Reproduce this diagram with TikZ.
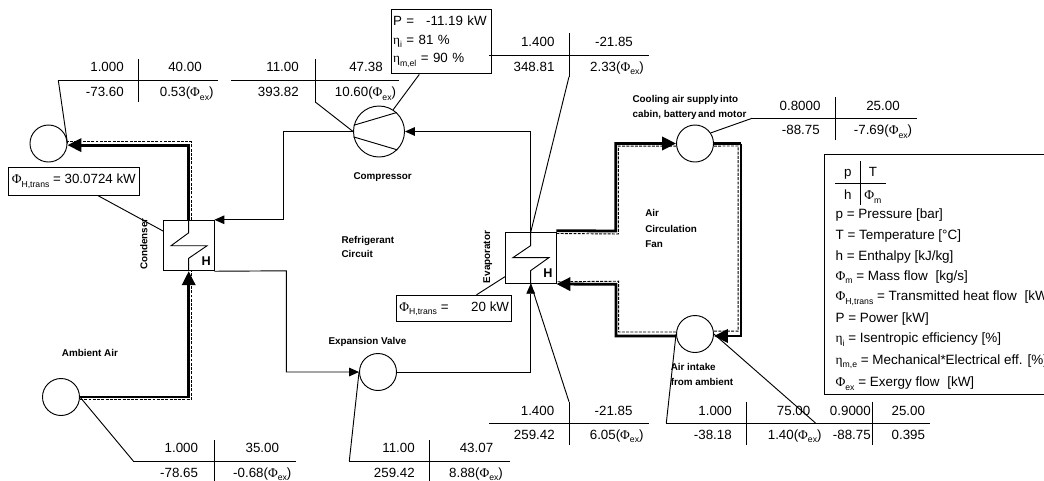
\documentclass[tikz,border=0pt]{standalone}
\usepackage{fontspec}
\setmainfont{Liberation Sans}
\newfontfamily\grkfont{Liberation Serif}
\usetikzlibrary{positioning,shapes,arrows.meta}
\newcommand{\Phisub}[1]{{\grkfont Φ}\raisebox{-0.5ex}{\fontsize{6.5}{7}\selectfont #1}}
\newcommand{\Etasub}[1]{{\grkfont η}\raisebox{-0.5ex}{\fontsize{6.5}{7}\selectfont #1}}
\tikzstyle{unit} = [circle, draw=black, line width=0.7pt, minimum size=27.75pt, inner sep=0pt]
\tikzstyle{bigunit} = [circle, draw=black, line width=0.7pt, minimum size=38.25pt, inner sep=0pt]
\tikzstyle{exchanger} = [rectangle, draw=black, line width=0.7pt, minimum size=37.9pt, inner sep=0pt]
\tikzstyle{databox} = [rectangle, draw=black, line width=0.7pt, inner sep=0pt, font=\fontsize{10}{14}\selectfont]
\tikzstyle{refline} = [line width=0.7pt, -{Triangle[length=7.5pt,width=6.5pt]}]
\tikzstyle{airline} = [line width=2.1pt, -{Triangle[length=10.5pt,width=10pt]}]
\tikzstyle{airplain} = [line width=2.1pt]
\tikzstyle{airdash} = [line width=0.7pt, dash pattern=on 2.2pt off 1pt]
\tikzstyle{leader} = [line width=0.7pt]
\tikzstyle{rule} = [line width=0.7pt]
\tikzstyle{numr} = [anchor=base east, inner sep=0pt, font=\fontsize{10}{12}\selectfont]
\tikzstyle{numc} = [anchor=base, inner sep=0pt, font=\fontsize{10}{12}\selectfont]
\tikzstyle{keytext} = [anchor=base west, inner sep=0pt, font=\fontsize{10.1}{12}\selectfont]
\tikzstyle{lbl} = [anchor=base west, inner sep=0pt, font=\fontsize{7.4}{9}\selectfont\bfseries]
\tikzstyle{hletter} = [anchor=base, inner sep=0pt, font=\fontsize{9.5}{12}\selectfont\bfseries]
\begin{document}
\begin{tikzpicture}[x=0.75pt,y=-0.75pt]
			\useasboundingbox (0,0) rectangle (1044,480);

			\node (outc) [unit] at (48.5,143.5) {};
			\node (amb) [unit] at (61,397) {};
			\node (comp) [bigunit] at (379,131.5) {};
			\node (exp) [unit] at (378,372) {};
			\node (sup) [unit] at (695,143.5) {};
			\node (int) [unit] at (695,334) {};
			\node (cond) [exchanger] at (188.7,245.5) {};
			\node (evap) [exchanger] at (530.7,258) {};
			\node (condH) [hletter] at (206.3,265) {H};
			\node (evapH) [hletter] at (548,277.7) {H};

			\coordinate (refA) at (283.5,131.5);
			\coordinate (refB) at (286.3,270.8);
			\coordinate (fanA) at (615.7,231);
			\coordinate (fanB) at (741,143.5);
			\coordinate (fanC) at (616,284.3);
			\coordinate (dashA) at (618.3,234);
			\coordinate (dashB) at (738.2,146);
			\coordinate (dashC) at (618.6,281.2);

			% zigzag coils
			\draw [leader] (cond.north) -- ++(0,13) -- ++(-17.7,13) -- ++(36,0) -- ++(-18.3,12.5) -- (cond.south);
			\draw [leader] (evap.north) -- ++(0,13.3) -- ++(-17.7,12) -- ++(36,0) -- ++(-18.3,13) -- (evap.south);

			% compressor blades
			\draw [leader] (comp.166) -- (comp.47);
			\draw [leader] (comp.192) -- (comp.-45);

			% refrigerant circuit
			\draw [refline] (comp.west) -- (refA) |- (cond.north east);
			\draw [refline] (cond.south east) -- (refB) |- (exp.west);
			\draw [refline] (exp.east) -| (evap.south);
			\draw [refline] (evap.north) |- (comp.east);

			% air streams
			\draw [airdash] ([yshift=-1.9pt]amb.east) -| ([xshift=1.9pt]cond.south);
			\draw [airdash] ([xshift=1.9pt]cond.north) |- ([yshift=1.2pt]outc.east);
			\draw [airdash] ([yshift=-0.9pt]evap.north east) -- (dashA) |- ([yshift=-1.9pt]sup.west);
			\draw [airdash] ([yshift=-1.9pt]sup.east) -- (dashB) |- ([yshift=2.2pt]int.east);
			\draw [airdash] ([yshift=1.5pt]int.west) -| (dashC) -- ([yshift=1.5pt]evap.south east);
			\draw [airline] (amb.east) -| (cond.south);
			\draw [airline] (cond.north) |- ([yshift=-1.2pt]outc.east);
			\draw [airline] ([yshift=1.2pt]evap.north east) -- (fanA) |- (sup.west);
			\draw [airplain] (sup.east) -- (fanB);
			\draw [airline] (fanB) |- ([yshift=-1.5pt]int.east);
			\draw [airline] ([yshift=-1.5pt]int.west) -| (fanC) -- ([yshift=-0.2pt]evap.south east);

			% state tables
			\draw [rule] (58.3,80.3) coordinate (st1l) -- (218.3,80.3);
			\draw [rule] (138,59) -- (138,102);
			\node (st1p) [numr] at (124,71.5) {1.000};
			\node (st1T) [numc] at (185,71.5) {40.00};
			\node (st1h) [numr] at (124,96.7) {-73.60};
			\node (st1m) [numc] at (186.7,96.7) {0.53(\Phisub{ex})};

			\draw [rule] (231.3,80.3) -- (399,80.3);
			\draw [rule] (315.3,59) -- (315.3,102) coordinate (st2b);
			\node (st2p) [numr] at (299,71.5) {11.00};
			\node (st2T) [numc] at (366,71.5) {47.38};
			\node (st2h) [numr] at (299,96.7) {393.82};
			\node (st2m) [numc] at (365.5,96.7) {10.60(\Phisub{ex})};

			\draw [rule] (489,55) -- (649,55);
			\draw [rule] (569,33.3) -- (569,76.7) coordinate (st3b);
			\node (st3p) [numr] at (554.7,46) {1.400};
			\node (st3T) [numc] at (614,46) {-21.85};
			\node (st3h) [numr] at (554.7,71.4) {348.81};
			\node (st3m) [numc] at (617,71.4) {2.33(\Phisub{ex})};

			\draw [rule] (752,118.3) coordinate (st4l) -- (916.7,118.3);
			\draw [rule] (835,97.3) -- (835,140);
			\node (st4p) [numr] at (820.7,110) {0.8000};
			\node (st4T) [numc] at (883,110) {25.00};
			\node (st4h) [numr] at (820,134.7) {-88.75};
			\node (st4m) [numc] at (883,134.7) {-7.69(\Phisub{ex})};

			\draw [rule] (133.3,461) coordinate (st5l) -- (295.7,461);
			\draw [rule] (214,440) -- (214,483);
			\node (st5p) [numr] at (198.3,452.5) {1.000};
			\node (st5T) [numc] at (262.3,452.5) {35.00};
			\node (st5h) [numr] at (198.3,477) {-78.65};
			\node (st5m) [numc] at (262.3,477) {-0.68(\Phisub{ex})};

			\draw [rule] (349.3,461) coordinate (st6l) -- (509.5,461);
			\draw [rule] (429.7,440) -- (429.7,483);
			\node (st6p) [numr] at (415,452.5) {11.00};
			\node (st6T) [numc] at (476.5,452.5) {43.07};
			\node (st6h) [numr] at (415,477) {259.42};
			\node (st6m) [numc] at (476,477) {8.88(\Phisub{ex})};

			\draw [rule] (489,423) -- (649,423);
			\draw [rule] (569,401.7) coordinate (st7t) -- (569,445);
			\node (st7p) [numr] at (554.5,415) {1.400};
			\node (st7T) [numc] at (613.6,415) {-21.85};
			\node (st7h) [numr] at (555,439) {259.42};
			\node (st7m) [numc] at (616.7,439) {6.05(\Phisub{ex})};

			\draw [rule] (666.3,423) coordinate (st8l) -- (930.3,423);
			\draw [rule] (746,401.7) -- (746,445);
			\node (st8p) [numr] at (732,415.5) {1.000};
			\node (st8T) [numc] at (793.6,415.5) {75.00};
			\node (st8h) [numr] at (732,439) {-38.18};
			\node (st8m) [numc] at (794.7,439) {1.40(\Phisub{ex})};

			\coordinate (st9l) at (815.5,423);
			\draw [rule] (872.7,401.7) -- (872.7,445);
			\node (st9p) [numr] at (871,415.5) {0.9000};
			\node (st9T) [numc] at (908.3,415.5) {25.00};
			\node (st9h) [numr] at (871,439) {-88.75};
			\node (st9m) [numc] at (908.3,439) {0.395};

			% data boxes
			\node (heat1) [databox, minimum width=98.25pt, minimum height=20.5pt] at (73.8,181.4) {\Phisub{H,trans} = 30.0724 kW};
			\node (heat2) [databox, minimum width=86.25pt, minimum height=19.8pt] at (454.2,308.5) {\Phisub{H,trans} =\hspace{1.7em}20 kW};
			\node (pwr) [databox, minimum height=48.5pt, text width=73pt, align=left, inner xsep=1pt, inner ysep=0pt] at (441.7,41.6) {P =\hspace{0.9em}-11.19 kW\\ \Etasub{i} = 81 \%\\ \Etasub{m,el} = 90 \%};

			% leader lines
			\draw [leader] (st1l) -- (outc.east);
			\draw [leader] (st2b) -- (comp.west);
			\draw [leader] (st3b) -- (evap.north);
			\draw [leader] (st4l) -- (sup.34);
			\draw [leader] (st5l) -- (amb.east);
			\draw [leader] (st6l) -- (exp.west);
			\draw [leader] (st7t) -- (evap.south);
			\draw [leader] (st8l) -- (int.west);
			\draw [leader] (st9l) -- (int.east);
			\draw [leader] ([xshift=18pt]heat1.south) -- ([yshift=10.9pt]cond.west);
			\draw [leader] ([xshift=16.7pt]heat2.north) -- ([yshift=-14pt]evap.west);
			\draw [leader] ([xshift=-16.8pt]pwr.south) -- (comp.57);

			% labels
			\node (lblsup) [lbl] at (632.3,102.7) {Cooling air supply\hspace{-1pt} into};
			\node (lblsupb) [lbl] at (632.3,117.3) {cabin, battery\hspace{-1pt} and motor};
			\node (lblcomp) [lbl] at (353.3,179) {Compressor};
			\node (lblref) [lbl] at (341.3,243) {Refrigerant};
			\node (lblrefb) [lbl] at (341.3,257.3) {Circuit};
			\node (lblfan) [lbl] at (645,216.7) {Air};
			\node (lblfanb) [lbl] at (645,232.7) {Circulation};
			\node (lblfanc) [lbl] at (645,247.7) {Fan};
			\node (lblamb) [lbl] at (61.7,356.7) {Ambient Air};
			\node (lblexp) [lbl] at (328.3,344) {Expansion Valve};
			\node (lblint) [lbl] at (670.5,370) {Air intake};
			\node (lblintb) [lbl] at (670.5,385) {from ambient};
			\node (lblcond) [lbl, rotate=90] at (147.3,270) {Condenser};
			\node (lblevap) [lbl, rotate=90] at (490,283.3) {Evaporator};

			% key
			\node (key) [rectangle, draw=black, line width=0.7pt, minimum width=176.5pt, minimum height=179.8pt] at (942.4,274.2) {};
			\draw [rule] (835,183.3) -- (886,183.3);
			\draw [rule] (860.3,161) -- (860.3,205);
			\node (keyp) [numc] at (847.7,176) {p};
			\node (keyT) [numc] at (873,176) {T};
			\node (keyh) [numc] at (847.7,199.5) {h};
			\node (keym) [keytext] at (864,199.5) {\Phisub{m}};
			\node (key1) [keytext] at (835.3,218) {p = Pressure [bar]};
			\node (key2) [keytext] at (835.3,239) {T = Temperature [°C]};
			\node (key3) [keytext] at (835.3,260) {h = Enthalpy [kJ/kg]};
			\node (key4) [keytext] at (835.3,280) {\Phisub{m} = Mass flow\hspace{0.3em} [kg/s]};
			\node (key5) [keytext] at (835.3,300.5) {\Phisub{H,trans} = Transmitted heat flow\hspace{0.3em} [kW]};
			\node (key6) [keytext] at (835.3,322) {P = Power [kW]};
			\node (key7) [keytext] at (835.3,342.7) {\Etasub{i} = Isentropic efficiency [\%]};
			\node (key8) [keytext] at (835.3,364) {\Etasub{m,e} = Mechanical*Electrical eff. [\%]};
			\node (key9) [keytext] at (835.3,386.7) {\Phisub{ex} = Exergy flow\hspace{0.3em} [kW]};

			\end{tikzpicture}
\end{document}
